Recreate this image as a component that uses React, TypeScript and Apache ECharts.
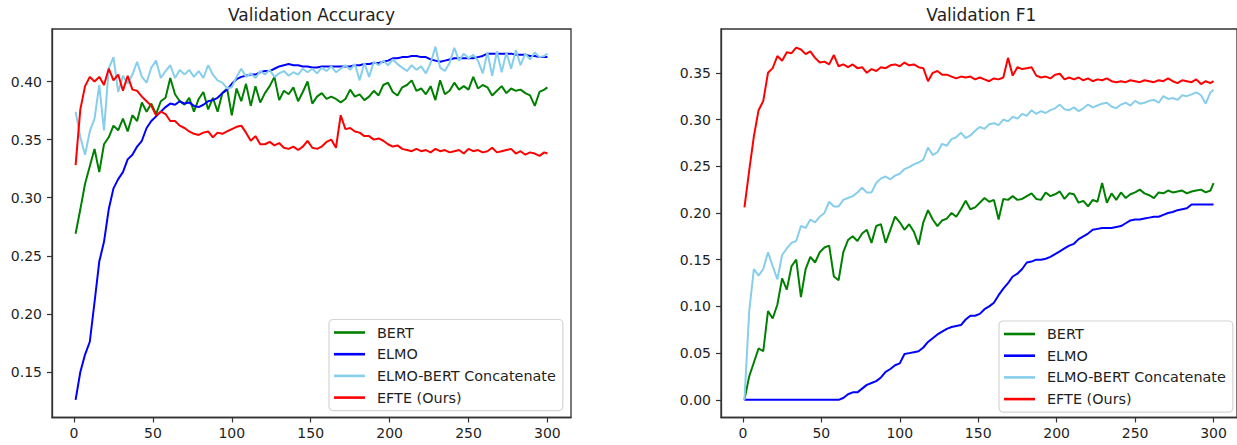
import React, { useEffect, useRef } from "react";
import * as echarts from "echarts";

const FONT = "'DejaVu Sans', 'Liberation Sans', sans-serif";
const INK = "#1f1f1f";
const FRAME = "#333333";

const seriesNames = ["BERT", "ELMO", "ELMO-BERT Concatenate", "EFTE (Ours)"];
const seriesColors = ["#008000", "#0000ff", "#87ceeb", "#ff0000"];

const xTicks = [0, 50, 100, 150, 200, 250, 300];
const accTicks = [0.15, 0.2, 0.25, 0.3, 0.35, 0.4];
const f1Ticks = [0, 0.05, 0.1, 0.15, 0.2, 0.25, 0.3, 0.35];

const epochs = [
  1, 4, 7, 10, 13, 16, 19, 22, 25, 28,
  31, 34, 37, 40, 43, 46, 49, 52, 55, 58,
  61, 64, 67, 70, 73, 76, 79, 82, 85, 88,
  91, 94, 97, 100, 103, 106, 109, 112, 115, 118,
  121, 124, 127, 130, 133, 136, 139, 142, 145, 148,
  151, 154, 157, 160, 163, 166, 169, 172, 175, 178,
  181, 184, 187, 190, 193, 196, 199, 202, 205, 208,
  211, 214, 217, 220, 223, 226, 229, 232, 235, 238,
  241, 244, 247, 250, 253, 256, 259, 262, 265, 268,
  271, 274, 277, 280, 283, 286, 289, 292, 295, 298,
  300,
];

const accBert = [
  0.269, 0.29, 0.312, 0.327, 0.342, 0.322, 0.346, 0.352, 0.362, 0.358,
  0.368, 0.357, 0.371, 0.366, 0.382, 0.374, 0.381, 0.372, 0.383, 0.386,
  0.403, 0.389, 0.383, 0.38, 0.386, 0.374, 0.385, 0.391, 0.376, 0.386,
  0.374, 0.39, 0.394, 0.371, 0.394, 0.383, 0.398, 0.379, 0.396, 0.382,
  0.39, 0.396, 0.404, 0.384, 0.392, 0.389, 0.395, 0.383, 0.391, 0.4,
  0.381, 0.387, 0.39, 0.385, 0.387, 0.385, 0.382, 0.385, 0.393, 0.387,
  0.389, 0.384, 0.387, 0.392, 0.388, 0.397, 0.399, 0.391, 0.388, 0.395,
  0.397, 0.401, 0.392, 0.394, 0.389, 0.396, 0.384, 0.401, 0.389, 0.392,
  0.399, 0.393, 0.396, 0.393, 0.404, 0.394, 0.397, 0.395, 0.388, 0.392,
  0.396, 0.39, 0.394, 0.392, 0.393, 0.39, 0.388, 0.379, 0.391, 0.393,
  0.395,
];

const accElmo = [
  0.126, 0.15, 0.165, 0.176, 0.21, 0.245, 0.262, 0.29, 0.308, 0.316,
  0.322, 0.333, 0.337, 0.344, 0.349, 0.36, 0.366, 0.37, 0.374, 0.378,
  0.381, 0.38, 0.383, 0.381, 0.382, 0.379, 0.378, 0.38, 0.383, 0.384,
  0.386, 0.39, 0.393, 0.398, 0.402, 0.404, 0.405, 0.406, 0.406, 0.408,
  0.409, 0.409, 0.411, 0.413, 0.414, 0.415, 0.414, 0.414, 0.413, 0.413,
  0.412, 0.412, 0.413, 0.413, 0.413, 0.413, 0.413, 0.413, 0.413, 0.414,
  0.414, 0.415, 0.415, 0.416, 0.416, 0.417, 0.418, 0.42, 0.42, 0.421,
  0.421, 0.422, 0.422, 0.421, 0.421, 0.419, 0.418, 0.417, 0.418, 0.419,
  0.42, 0.42, 0.42, 0.42, 0.42, 0.421, 0.422, 0.424, 0.424, 0.424,
  0.424, 0.424, 0.424, 0.423, 0.423, 0.423, 0.422, 0.422, 0.421, 0.421,
  0.421,
];

const accConcat = [
  0.374, 0.352, 0.337, 0.357, 0.368, 0.397, 0.358, 0.411, 0.421, 0.391,
  0.405, 0.398, 0.406, 0.417, 0.404, 0.399, 0.412, 0.418, 0.403, 0.409,
  0.414, 0.403, 0.41, 0.406, 0.41, 0.404, 0.409, 0.403, 0.414, 0.406,
  0.401, 0.399, 0.394, 0.395, 0.404, 0.411, 0.404, 0.407, 0.403, 0.409,
  0.406, 0.41, 0.404, 0.407, 0.409, 0.405, 0.408, 0.406, 0.411, 0.408,
  0.411, 0.407, 0.412, 0.409, 0.413, 0.408, 0.411, 0.414, 0.41, 0.415,
  0.401, 0.416, 0.404, 0.417, 0.414, 0.418, 0.414, 0.419, 0.415, 0.412,
  0.409, 0.414, 0.41, 0.413, 0.407, 0.416, 0.43, 0.412, 0.409, 0.416,
  0.429, 0.418, 0.424, 0.42, 0.423, 0.418, 0.407, 0.425, 0.405, 0.426,
  0.408, 0.425, 0.411, 0.427, 0.414, 0.424, 0.419, 0.425, 0.421, 0.422,
  0.424,
];

const accEfte = [
  0.328, 0.376, 0.396, 0.404, 0.4, 0.404, 0.397, 0.411, 0.401, 0.406,
  0.392, 0.405, 0.393, 0.392, 0.387, 0.383, 0.379, 0.371, 0.374, 0.372,
  0.366, 0.366, 0.362, 0.36, 0.357, 0.355, 0.354, 0.356, 0.357, 0.352,
  0.356, 0.355, 0.357, 0.359, 0.361, 0.362, 0.356, 0.349, 0.353, 0.346,
  0.346, 0.348, 0.345, 0.347, 0.343, 0.342, 0.344, 0.341, 0.344, 0.349,
  0.343, 0.342, 0.344, 0.348, 0.35, 0.343, 0.371, 0.359, 0.36, 0.357,
  0.356, 0.353, 0.353, 0.35, 0.351, 0.349, 0.346, 0.344, 0.345, 0.342,
  0.341, 0.34, 0.342, 0.34, 0.341, 0.339, 0.342, 0.34, 0.341, 0.339,
  0.34, 0.341, 0.338, 0.342, 0.34, 0.341, 0.339, 0.34, 0.343, 0.339,
  0.34, 0.341, 0.342, 0.338, 0.34, 0.337, 0.339, 0.338, 0.336, 0.339,
  0.338,
];

const f1Bert = [
  0.0, 0.025, 0.04, 0.055, 0.052, 0.095, 0.087, 0.102, 0.13, 0.118,
  0.143, 0.15, 0.11, 0.14, 0.153, 0.147, 0.158, 0.163, 0.165, 0.132,
  0.128, 0.158, 0.171, 0.175, 0.17, 0.178, 0.182, 0.168, 0.186, 0.188,
  0.168, 0.182, 0.196, 0.19, 0.182, 0.188, 0.18, 0.166, 0.19, 0.203,
  0.193, 0.186, 0.192, 0.194, 0.2, 0.196, 0.204, 0.213, 0.204, 0.206,
  0.211, 0.216, 0.212, 0.214, 0.193, 0.215, 0.214, 0.218, 0.214, 0.215,
  0.218, 0.221, 0.215, 0.214, 0.222, 0.218, 0.22, 0.223, 0.215, 0.221,
  0.22, 0.211, 0.213, 0.207, 0.214, 0.212, 0.232, 0.211, 0.221, 0.214,
  0.222, 0.216, 0.22, 0.222, 0.225, 0.221, 0.219, 0.216, 0.222, 0.221,
  0.224, 0.222, 0.223, 0.224, 0.221, 0.223, 0.224, 0.225, 0.222, 0.224,
  0.232,
];

const f1Elmo = [
  0, 0, 0, 0, 0, 0, 0, 0, 0, 0,
  0, 0, 0, 0, 0, 0, 0, 0, 0, 0,
  0, 0.002, 0.006, 0.008, 0.008, 0.012, 0.016, 0.018, 0.02, 0.024,
  0.03, 0.033, 0.037, 0.039, 0.049, 0.05, 0.051, 0.052, 0.056, 0.062,
  0.066, 0.07, 0.073, 0.076, 0.078, 0.079, 0.08, 0.086, 0.09, 0.09,
  0.092, 0.097, 0.1, 0.104, 0.112, 0.119, 0.125, 0.132, 0.135, 0.14,
  0.147, 0.148, 0.15, 0.15, 0.151, 0.153, 0.156, 0.159, 0.162, 0.165,
  0.167, 0.172, 0.175, 0.178, 0.182, 0.183, 0.184, 0.184, 0.184, 0.185,
  0.186, 0.189, 0.192, 0.193, 0.193, 0.194, 0.195, 0.196, 0.196, 0.198,
  0.2, 0.201, 0.203, 0.204, 0.205, 0.209, 0.209, 0.209, 0.209, 0.209,
  0.209,
];

const f1Concat = [
  0.0, 0.094, 0.14, 0.133, 0.14, 0.158, 0.143, 0.129, 0.155, 0.162,
  0.168, 0.17, 0.186, 0.184, 0.193, 0.19, 0.196, 0.2, 0.212, 0.207,
  0.207, 0.214, 0.216, 0.218, 0.222, 0.227, 0.222, 0.222, 0.232, 0.237,
  0.239, 0.236, 0.24, 0.242, 0.247, 0.249, 0.252, 0.254, 0.257, 0.27,
  0.262, 0.265, 0.274, 0.272, 0.279, 0.281, 0.286, 0.28, 0.283, 0.288,
  0.292, 0.29, 0.295, 0.296, 0.294, 0.3, 0.298, 0.303, 0.301, 0.306,
  0.304, 0.31, 0.306, 0.309, 0.307, 0.31, 0.312, 0.316, 0.311, 0.31,
  0.313, 0.309, 0.312, 0.316, 0.313, 0.315, 0.317, 0.318, 0.314, 0.312,
  0.316, 0.318, 0.315, 0.32, 0.317, 0.318, 0.32, 0.321, 0.318, 0.325,
  0.322, 0.323, 0.321, 0.326, 0.325, 0.327, 0.329, 0.326, 0.317, 0.329,
  0.332,
];

const f1Efte = [
  0.206, 0.245, 0.282, 0.31, 0.32, 0.35, 0.355, 0.368, 0.363, 0.372,
  0.371, 0.377, 0.375, 0.37, 0.373, 0.366, 0.361, 0.362, 0.359, 0.369,
  0.357, 0.359, 0.356, 0.359, 0.355, 0.356, 0.35, 0.354, 0.352, 0.356,
  0.355, 0.358, 0.359, 0.357, 0.361, 0.358, 0.359, 0.356, 0.355, 0.341,
  0.35, 0.352, 0.348, 0.348, 0.346, 0.344, 0.346, 0.345, 0.346, 0.343,
  0.345, 0.343, 0.341, 0.344, 0.343, 0.345, 0.366, 0.347, 0.356, 0.354,
  0.355, 0.356, 0.347, 0.345, 0.346, 0.344, 0.348, 0.349, 0.343, 0.345,
  0.343, 0.345, 0.342, 0.344, 0.341, 0.343, 0.342, 0.344, 0.341, 0.34,
  0.341, 0.34, 0.342, 0.341, 0.34, 0.342, 0.341, 0.34, 0.342, 0.341,
  0.344, 0.341, 0.339, 0.342, 0.341, 0.34, 0.343, 0.338, 0.341, 0.339,
  0.341,
];

const accSeries = [accBert, accElmo, accConcat, accEfte];
const f1Series = [f1Bert, f1Elmo, f1Concat, f1Efte];

function xAxisFor(gridIndex: number) {
  return {
    type: "value",
    gridIndex,
    min: -13.95,
    max: 314.95,
    splitLine: { show: false },
    axisLine: { show: true, onZero: false, lineStyle: { color: FRAME, width: 1.3 } },
    axisTick: { show: true, length: 5, customValues: xTicks, lineStyle: { color: FRAME, width: 1.2 } },
    axisLabel: {
      customValues: xTicks,
      margin: 8,
      fontSize: 14,
      color: INK,
      fontFamily: FONT,
    },
  };
}

function yAxisFor(gridIndex: number, min: number, max: number, ticks: number[]) {
  return {
    type: "value",
    gridIndex,
    min,
    max,
    splitLine: { show: false },
    axisLine: { show: true, onZero: false, lineStyle: { color: FRAME, width: 1.3 } },
    axisTick: { show: true, length: 5, customValues: ticks, lineStyle: { color: FRAME, width: 1.2 } },
    axisLabel: {
      customValues: ticks,
      margin: 10,
      fontSize: 14,
      color: INK,
      fontFamily: FONT,
      formatter: (v: number) => v.toFixed(2),
    },
  };
}

function legendAt(left: number, top: number) {
  return {
    orient: "vertical",
    left,
    top,
    data: seriesNames,
    icon: "rect",
    itemWidth: 31,
    itemHeight: 2.6,
    itemGap: 4.7,
    padding: [4.5, 7, 4.5, 5],
    backgroundColor: "rgba(255,255,255,0.8)",
    borderColor: "#d4d4d4",
    borderWidth: 1.2,
    borderRadius: 4,
    selectedMode: false,
    textStyle: {
      fontSize: 14.4,
      lineHeight: 17,
      color: INK,
      fontFamily: FONT,
      padding: [0, 0, 0, 7],
    },
  };
}

export default function App() {
  const ref = useRef<HTMLDivElement>(null);

  useEffect(() => {
    const el = ref.current;
    if (!el) return;
    const chart = echarts.init(el, null, { renderer: "svg" });

    const series: any[] = [];
    seriesNames.forEach((name, k) => {
      series.push({
        name,
        type: "line",
        xAxisIndex: 0,
        yAxisIndex: 0,
        showSymbol: false,
        symbol: "none",
        color: seriesColors[k],
        lineStyle: { width: 2, color: seriesColors[k] },
        data: epochs.map((e, i) => [e, accSeries[k][i]]),
      });
    });
    seriesNames.forEach((name, k) => {
      series.push({
        name,
        type: "line",
        xAxisIndex: 1,
        yAxisIndex: 1,
        showSymbol: false,
        symbol: "none",
        color: seriesColors[k],
        lineStyle: { width: 2, color: seriesColors[k] },
        data: epochs.map((e, i) => [e, f1Series[k][i]]),
      });
    });

    const option: any = {
      animation: false,
      backgroundColor: "#ffffff",
      textStyle: { fontFamily: FONT },
      grid: [
        { left: 52, top: 29, width: 519, height: 388.5, show: true, borderColor: FRAME, borderWidth: 1.3, backgroundColor: "transparent" },
        { left: 721, top: 29, width: 520.6, height: 388.5, show: true, borderColor: FRAME, borderWidth: 1.3, backgroundColor: "transparent" },
      ],
      xAxis: [xAxisFor(0), xAxisFor(1)],
      yAxis: [
        yAxisFor(0, 0.1108, 0.4452, accTicks),
        yAxisFor(1, -0.0189, 0.3969, f1Ticks),
      ],
      legend: [legendAt(329, 319.5), legendAt(999, 321)],
      graphic: [
        {
          type: "text",
          x: 311.5,
          y: 14.5,
          style: { text: "Validation Accuracy", fontSize: 17, fontFamily: FONT, fill: INK, align: "center", verticalAlign: "middle" },
        },
        {
          type: "text",
          x: 981.3,
          y: 14.5,
          style: { text: "Validation F1", fontSize: 17, fontFamily: FONT, fill: INK, align: "center", verticalAlign: "middle" },
        },
      ],
      series,
    };

    chart.setOption(option);
    return () => chart.dispose();
  }, []);

  return (
    <div
      ref={ref}
      style={{ position: "absolute", left: 0, top: 0, width: 1237, height: 445, background: "#ffffff", overflow: "hidden" }}
    />
  );
}
